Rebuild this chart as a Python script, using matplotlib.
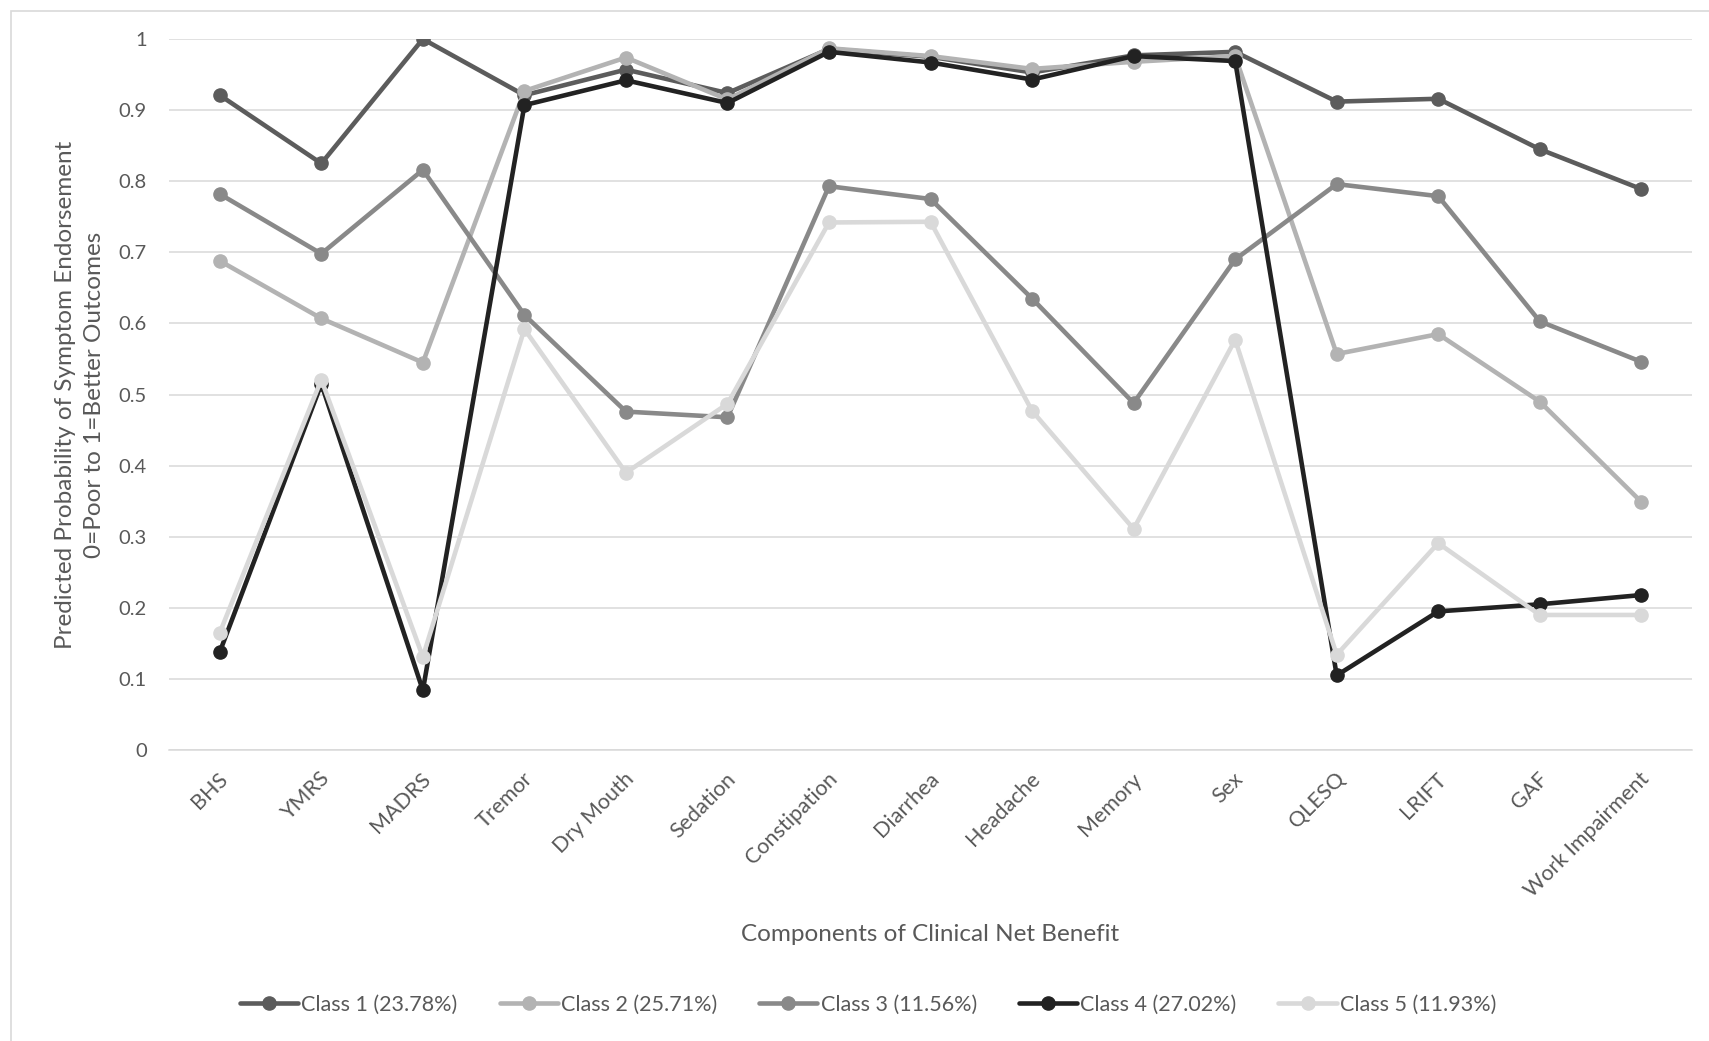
import matplotlib.pyplot as plt
import matplotlib.transforms as mtransforms
from matplotlib.patches import Rectangle

# Latent class profiles: predicted probability of endorsement per component
components = ["BHS", "YMRS", "MADRS", "Tremor", "Dry Mouth", "Sedation",
              "Constipation", "Diarrhea", "Headache", "Memory", "Sex",
              "QLESQ", "LRIFT", "GAF", "Work Impairment"]

class1 = [0.921, 0.825, 1.000, 0.921, 0.957, 0.924, 0.986, 0.975, 0.953,
          0.977, 0.982, 0.912, 0.916, 0.845, 0.789]
class2 = [0.688, 0.607, 0.545, 0.927, 0.974, 0.915, 0.987, 0.976, 0.958,
          0.968, 0.976, 0.557, 0.585, 0.490, 0.349]
class3 = [0.782, 0.698, 0.816, 0.612, 0.476, 0.468, 0.793, 0.775, 0.635,
          0.488, 0.690, 0.796, 0.779, 0.603, 0.546]
class4 = [0.138, 0.515, 0.084, 0.907, 0.942, 0.910, 0.982, 0.967, 0.943,
          0.976, 0.969, 0.105, 0.195, 0.205, 0.218]
class5 = [0.165, 0.521, 0.131, 0.592, 0.390, 0.487, 0.742, 0.743, 0.477,
          0.311, 0.577, 0.134, 0.291, 0.190, 0.190]

class_labels = ["Class 1 (23.78%)", "Class 2 (25.71%)", "Class 3 (11.56%)",
                "Class 4 (27.02%)", "Class 5 (11.93%)"]
yticks = [0, 0.1, 0.2, 0.3, 0.4, 0.5, 0.6, 0.7, 0.8, 0.9, 1]
ytick_labels = ["0", "0.1", "0.2", "0.3", "0.4", "0.5", "0.6", "0.7", "0.8", "0.9", "1"]

colors = ["#5c5c5c", "#b3b3b3", "#898989", "#222222", "#d9d9d9"]
text_color = "#595959"
grid_color = "#d9d9d9"

plt.rcParams['font.family'] = ['Lato', 'DejaVu Sans']

fig = plt.figure(figsize=(17.09, 10.41), dpi=100)
ax = fig.add_axes([0.0989, 0.2795, 0.8912, 0.683])

series = [class1, class2, class3, class4, class5]
for vals, lab, col in zip(series, class_labels, colors):
    ax.plot(components, vals, color=col, lw=3.3, marker='o', ms=9.5,
            label=lab, solid_capstyle='round', solid_joinstyle='round')

ax.set_xlim(-0.5, len(components) - 0.5)
ax.set_ylim(0, 1)
ax.set_yticks(yticks)
ax.set_yticklabels(ytick_labels)
ax.yaxis.grid(True, color=grid_color, lw=1.1)
ax.set_axisbelow(True)
for s in ["top", "right", "left"]:
    ax.spines[s].set_visible(False)
ax.spines["bottom"].set_color(grid_color)
ax.spines["bottom"].set_linewidth(1.1)

ax.tick_params(axis='y', length=0, labelsize=14.5, labelcolor=text_color, pad=16)
ax.tick_params(axis='x', length=0, labelsize=15.5, labelcolor=text_color, pad=15)
# nudge the slanted category labels a little right and down
shift = mtransforms.ScaledTranslation(5 / 100, -5 / 100, fig.dpi_scale_trans)
for lbl in ax.get_xticklabels():
    lbl.set_rotation(45)
    lbl.set_ha('right')
    lbl.set_va('center')
    lbl.set_rotation_mode('anchor')
    lbl.set_transform(lbl.get_transform() + shift)

ax.set_xlabel("Components of Clinical Net Benefit", fontsize=17.5,
              color=text_color, va='center')
ax.xaxis.set_label_coords(0.5, -0.259)
ax.set_ylabel("Predicted Probability of Symptom Endorsement\n0=Poor to 1=Better Outcomes",
              fontsize=17.5, color=text_color, linespacing=1.5,
              ha='center', va='center')
ax.yaxis.set_label_coords(-0.0584, 0.5)

fig.legend(loc='center', bbox_to_anchor=(0.508, 0.0346), ncol=5,
           frameon=False, fontsize=15.5, labelcolor=text_color,
           handlelength=2.7, handletextpad=0.15, columnspacing=1.95)

# light chart-area border
fig.add_artist(Rectangle((11 / 1709, -0.1), 1.2, 1 - 11 / 1041 + 0.1,
                         transform=fig.transFigure, fill=False,
                         edgecolor=grid_color, lw=1.2))

fig.savefig("out.png", dpi=100)
